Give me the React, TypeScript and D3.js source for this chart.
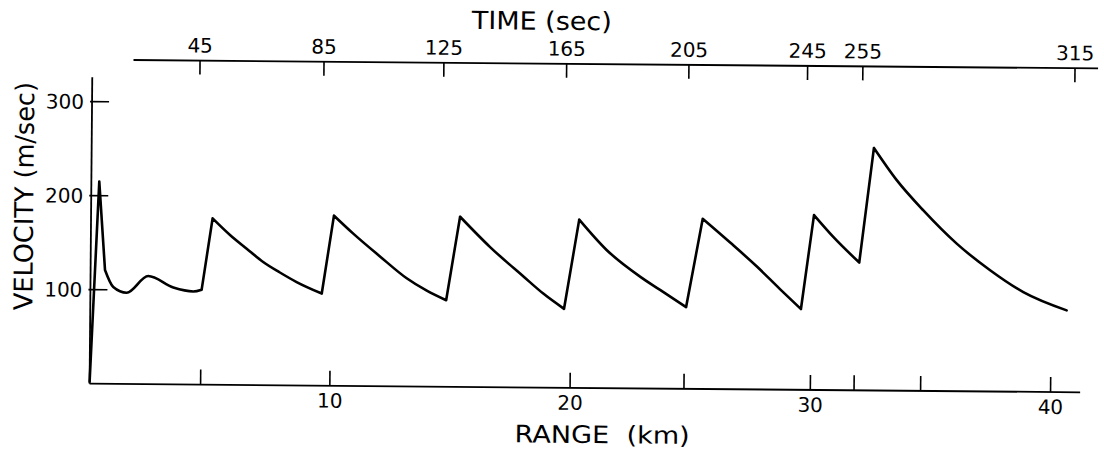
import { useRef, useEffect } from 'react';
import * as d3 from 'd3';

// velocity vs range
const rangeKm = [
  0, 0.33, 0.6, 0.95, 1.51, 2.4, 3.45, 4.28, 4.63,
  5.06, 5.79, 6.49, 7.18, 7.88, 8.58, 9.63,
  10.11, 10.92, 12.04, 13.16, 14.0, 14.81,
  15.36, 16.62, 18.02, 18.85, 19.72,
  20.32, 21.47, 22.87, 23.71, 24.8,
  25.46, 26.61, 27.72, 28.7, 29.58,
  30.09, 30.9, 31.99,
  32.56, 33.52, 34.64, 36.04, 37.44, 38.83, 40.64,
];
const velocity = [
  2, 215, 121, 103, 97, 115, 103, 99, 101,
  177, 159.5, 145, 131, 120, 110, 98,
  181, 162, 138, 115, 102, 92,
  181, 149, 118, 100, 84,
  179, 147, 119, 105, 87,
  181, 156, 131, 107, 86,
  186, 163, 136,
  258, 224, 192, 157, 129, 106, 87,
];
// indices where the curve has a sharp corner
const kinks = [0, 1, 2, 8, 9, 15, 16, 21, 22, 26, 27, 31, 32, 36, 37, 39, 40, 46];

const velTicks = [100, 200, 300];
const rangeTicks = [4.62, 10, 20, 24.74, 30, 31.82, 34.59, 40];
const rangeLabels = ['', '10', '20', '', '30', '', '', '40'];
// time marks sit at the range reached at that time
const timeTickKm = [4.48, 9.64, 14.63, 19.74, 24.83, 29.77, 32.07, 40.9];
const timeLabels = ['45', '85', '125', '165', '205', '245', '255', '315'];

const FONT = 'DejaVu Sans';

const App = () => {
  const svgRef = useRef(null);

  useEffect(() => {
    const svg = d3.select(svgRef.current);
    svg.selectAll('*').remove();

    // the scanned figure is tilted a little
    const g = svg.append('g').attr('transform', 'rotate(0.5 590 225)');

    const x = d3.scaleLinear().domain([0, 40]).range([91, 1052]);
    const y = d3.scaleLinear().domain([0, 300]).range([388, 106]);

    const axisTop = 64;

    // left axis
    g.append('line')
      .attr('x1', x(0)).attr('x2', x(0))
      .attr('y1', y(326)).attr('y2', y(0))
      .attr('stroke', '#000').attr('stroke-width', 1.8);

    g.selectAll('.vtick')
      .data(velTicks)
      .join('line')
      .attr('x1', x(0) - 2).attr('x2', x(0) + 17)
      .attr('y1', (d) => y(d)).attr('y2', (d) => y(d))
      .attr('stroke', '#000').attr('stroke-width', 1.6);

    g.selectAll('.vlab')
      .data(velTicks)
      .join('text')
      .attr('x', x(0) - 8)
      .attr('y', (d) => y(d))
      .attr('dy', '0.36em')
      .attr('text-anchor', 'end')
      .attr('font-family', FONT)
      .attr('font-size', 20)
      .text((d) => d);

    // bottom axis
    g.append('line')
      .attr('x1', x(0)).attr('x2', x(41.23))
      .attr('y1', y(0)).attr('y2', y(0))
      .attr('stroke', '#000').attr('stroke-width', 1.8);

    g.selectAll('.rtick')
      .data(rangeTicks)
      .join('line')
      .attr('x1', (d) => x(d)).attr('x2', (d) => x(d))
      .attr('y1', y(0)).attr('y2', y(0) - 15)
      .attr('stroke', '#000').attr('stroke-width', 1.6);

    g.selectAll('.rlab')
      .data(rangeTicks)
      .join('text')
      .attr('x', (d) => x(d))
      .attr('y', 410)
      .attr('text-anchor', 'middle')
      .attr('font-family', FONT)
      .attr('font-size', 20)
      .text((d, i) => rangeLabels[i]);

    // top time axis
    g.append('line')
      .attr('x1', x(1.71)).attr('x2', x(41.86))
      .attr('y1', axisTop).attr('y2', axisTop)
      .attr('stroke', '#000').attr('stroke-width', 1.8);

    g.selectAll('.ttick')
      .data(timeTickKm)
      .join('line')
      .attr('x1', (d) => x(d)).attr('x2', (d) => x(d))
      .attr('y1', axisTop).attr('y2', axisTop + 14)
      .attr('stroke', '#000').attr('stroke-width', 1.6);

    g.selectAll('.tlab')
      .data(timeTickKm)
      .join('text')
      .attr('x', (d) => x(d))
      .attr('y', axisTop - 8)
      .attr('text-anchor', 'middle')
      .attr('font-family', FONT)
      .attr('font-size', 20)
      .text((d, i) => timeLabels[i]);

    // titles
    g.append('text')
      .attr('x', 540).attr('y', 30)
      .attr('text-anchor', 'middle')
      .attr('font-family', FONT)
      .attr('font-size', 25)
      .attr('textLength', 140)
      .attr('lengthAdjust', 'spacingAndGlyphs')
      .text('TIME (sec)');

    g.append('text')
      .attr('x', 604).attr('y', 443)
      .attr('text-anchor', 'middle')
      .attr('font-family', FONT)
      .attr('font-size', 24)
      .attr('textLength', 175)
      .attr('lengthAdjust', 'spacingAndGlyphs')
      .style('white-space', 'pre')
      .text('RANGE  (km)');

    g.append('text')
      .attr('transform', 'translate(33,201) rotate(-90)')
      .attr('text-anchor', 'middle')
      .attr('font-family', FONT)
      .attr('font-size', 26)
      .attr('textLength', 228)
      .attr('lengthAdjust', 'spacingAndGlyphs')
      .text('VELOCITY (m/sec)');

    // curve, split at the corners so the smooth parts stay smooth
    const points = rangeKm.map((r, i) => [r, velocity[i]]);
    const line = d3
      .line()
      .x((d) => x(d[0]))
      .y((d) => y(d[1]))
      .curve(d3.curveMonotoneX);

    const segs = [];
    for (let k = 0; k < kinks.length - 1; k++) {
      segs.push(points.slice(kinks[k], kinks[k + 1] + 1));
    }

    g.append('path')
      .attr('d', segs.map((s) => line(s)).join(''))
      .attr('fill', 'none')
      .attr('stroke', '#000')
      .attr('stroke-width', 2.6)
      .attr('stroke-linejoin', 'round')
      .attr('stroke-linecap', 'round');
  }, []);

  return (
    <svg
      ref={svgRef}
      width={1104}
      height={452}
      style={{ position: 'absolute', left: 0, top: 0, background: '#fff' }}
    ></svg>
  );
};

export default App;
